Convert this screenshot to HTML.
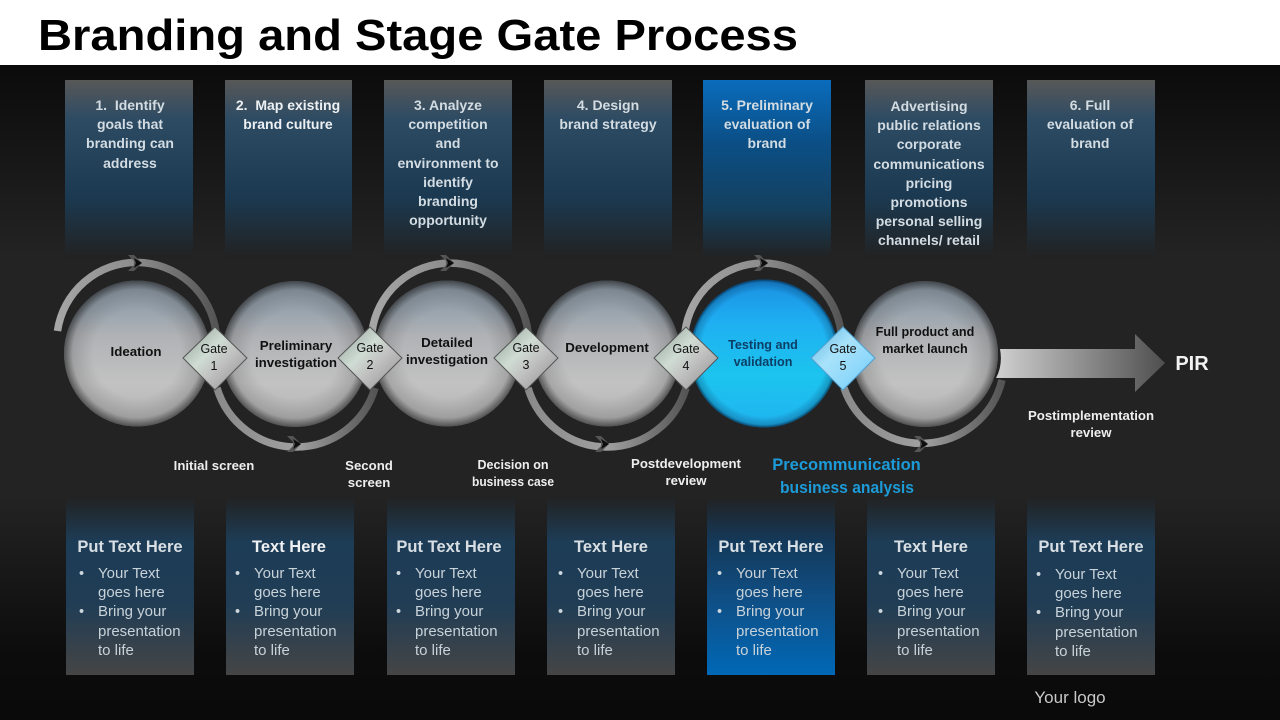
<!DOCTYPE html>
<html><head><meta charset="utf-8"><style>html,body{margin:0;padding:0;background:#fff}svg{display:block}
text{font-family:"Liberation Sans",sans-serif;text-anchor:middle}
.t{font-weight:700;font-size:14px;fill:#d3dce2}
.w{font-weight:700;font-size:13.200px;fill:#eee}
.c{font-weight:700;font-size:13.300px;fill:#111}
.g{font-size:12.500px;fill:#111}
.h{font-weight:700;font-size:16.500px;fill:#d8dfe4}
.b{font-size:15px;fill:#c8d2d9;text-anchor:start}
.d{font-size:14.500px;fill:#ccd6dc;text-anchor:start}
</style></head><body>
<svg width="1280" height="720" viewBox="0 0 1280 720" xmlns="http://www.w3.org/2000/svg">
<defs>
<linearGradient id="bg" x1="0" y1="65" x2="0" y2="720" gradientUnits="userSpaceOnUse"><stop offset="0" stop-color="#0b0b0b"/><stop offset=".29" stop-color="#232323"/><stop offset=".66" stop-color="#232323"/><stop offset=".9" stop-color="#0c0c0c"/><stop offset="1" stop-color="#0a0a0a"/></linearGradient>
<linearGradient id="top" x1="0" y1="0" x2="0" y2="1"><stop offset="0" stop-color="#585858"/><stop offset=".22" stop-color="#2d4b63"/><stop offset=".65" stop-color="#1b3a52"/><stop offset="1" stop-color="#222"/></linearGradient>
<linearGradient id="topB" x1="0" y1="0" x2="0" y2="1"><stop offset="0" stop-color="#0a6cbc"/><stop offset=".35" stop-color="#0b4f86"/><stop offset=".72" stop-color="#14405f"/><stop offset="1" stop-color="#222"/></linearGradient>
<linearGradient id="bot" x1="0" y1="0" x2="0" y2="1"><stop offset="0" stop-color="#222"/><stop offset=".25" stop-color="#1d3c56"/><stop offset=".6" stop-color="#203d55"/><stop offset="1" stop-color="#454545"/></linearGradient>
<linearGradient id="botB" x1="0" y1="0" x2="0" y2="1"><stop offset="0" stop-color="#222"/><stop offset=".25" stop-color="#14395a"/><stop offset=".6" stop-color="#0f5088"/><stop offset="1" stop-color="#0068b6"/></linearGradient>
<linearGradient id="sph" x1="0" y1="0" x2="0" y2="1"><stop offset="0" stop-color="#8d99a5"/><stop offset=".2" stop-color="#98a3ad"/><stop offset=".38" stop-color="#b0b2b5"/><stop offset=".7" stop-color="#c2c2c2"/><stop offset="1" stop-color="#b4b4b4"/></linearGradient>
<radialGradient id="edge" cx=".5" cy=".5" r=".5"><stop offset=".6" stop-color="#000" stop-opacity="0"/><stop offset=".88" stop-color="#000" stop-opacity=".14"/><stop offset="1" stop-color="#000" stop-opacity=".55"/></radialGradient>
<linearGradient id="sphB" x1="0" y1="0" x2="0" y2="1"><stop offset="0" stop-color="#1a8fe0"/><stop offset=".3" stop-color="#1fb0f2"/><stop offset=".65" stop-color="#1cc4ee"/><stop offset="1" stop-color="#1fb4f0"/></linearGradient>
<radialGradient id="edgeB" cx=".5" cy=".5" r=".5"><stop offset=".85" stop-color="#003" stop-opacity="0"/><stop offset=".96" stop-color="#024" stop-opacity=".25"/><stop offset="1" stop-color="#024" stop-opacity=".75"/></radialGradient>
<linearGradient id="dia" x1="0" y1="0" x2="1" y2="1"><stop offset="0" stop-color="#8d9a92"/><stop offset=".4" stop-color="#cfdcd3"/><stop offset=".6" stop-color="#c0c0c0"/><stop offset="1" stop-color="#8d8d8d"/></linearGradient>
<linearGradient id="diaB" x1="0" y1="0" x2="1" y2="1"><stop offset="0" stop-color="#5fb4e0"/><stop offset=".4" stop-color="#a8e2fa"/><stop offset=".7" stop-color="#8fd8fb"/><stop offset="1" stop-color="#58b8ea"/></linearGradient>
<linearGradient id="arrow" x1="998" y1="0" x2="1165" y2="0" gradientUnits="userSpaceOnUse"><stop offset="0" stop-color="#cfcfcf"/><stop offset="1" stop-color="#4f4f4f"/></linearGradient>
<linearGradient id="arcT" x1="0" y1="0" x2="1" y2="0"><stop offset="0" stop-color="#a6a6a6"/><stop offset=".5" stop-color="#8c8c8c"/><stop offset="1" stop-color="#555"/></linearGradient>
<linearGradient id="arcB" x1="0" y1="0" x2="1" y2="0"><stop offset="0" stop-color="#8a8a8a"/><stop offset=".5" stop-color="#a0a0a0"/><stop offset="1" stop-color="#555"/></linearGradient>
<g id="chev"><path d="M-9,-8 L-3,-8 L5,0 L-3,8 L-9,8 L-3,2 L-3,-2 Z" fill="#555"/><path d="M-3,-5 L5,0 L-3,5 L-1,0 Z" fill="#0c0c0c"/></g>
<g id="sphere"><circle r="73" fill="url(#sph)"/><circle r="73" fill="url(#edge)"/></g>
</defs>
<rect width="1280" height="65" fill="#fff"/>
<rect y="65" width="1280" height="655" fill="url(#bg)"/>
<text x="418" y="50" textLength="760" lengthAdjust="spacingAndGlyphs" style="font-weight:700;font-size:44px;fill:#000">Branding and Stage Gate Process</text>

<rect x="65" y="80" width="128" height="178" fill="url(#top)"/>
<rect x="225" y="80" width="127" height="178" fill="url(#top)"/>
<rect x="384" y="80" width="128" height="178" fill="url(#top)"/>
<rect x="544" y="80" width="128" height="178" fill="url(#top)"/>
<rect x="703" y="80" width="128" height="178" fill="url(#topB)"/>
<rect x="865" y="80" width="128" height="178" fill="url(#top)"/>
<rect x="1027" y="80" width="128" height="178" fill="url(#top)"/>

<text class="t" x="130" y="110" xml:space="preserve">1.  Identify</text><text class="t" x="130" y="129">goals that</text><text class="t" x="130" y="148">branding can</text><text class="t" x="130" y="168">address</text>
<text class="t" x="288" y="110" style="fill:#eef1f3" xml:space="preserve">2.  Map existing</text><text class="t" x="288" y="129" style="fill:#eef1f3">brand culture</text>
<text class="t" x="448" y="110">3. Analyze</text><text class="t" x="448" y="129">competition</text><text class="t" x="448" y="148">and</text><text class="t" x="448" y="168">environment to</text><text class="t" x="448" y="187">identify</text><text class="t" x="448" y="206">branding</text><text class="t" x="448" y="225">opportunity</text>
<text class="t" x="608" y="110">4. Design</text><text class="t" x="608" y="129">brand strategy</text>
<text class="t" x="767" y="110">5. Preliminary</text><text class="t" x="767" y="129">evaluation of</text><text class="t" x="767" y="148">brand</text>
<text class="t" x="929" y="111">Advertising</text><text class="t" x="929" y="130">public relations</text><text class="t" x="929" y="149">corporate</text><text class="t" x="929" y="169">communications</text><text class="t" x="929" y="188">pricing</text><text class="t" x="929" y="207">promotions</text><text class="t" x="929" y="226">personal selling</text><text class="t" x="929" y="245">channels/ retail</text>
<text class="t" x="1090" y="110">6. Full</text><text class="t" x="1090" y="129">evaluation of</text><text class="t" x="1090" y="148">brand</text>

<!-- arcs -->
<g fill="none" stroke-width="7.500">
<path d="M57.500,331 A80 80 0 0 1 216,332" stroke="url(#arcT)"/>
<path d="M372,332 A78.600 78.600 0 0 1 528,332" stroke="url(#arcT)"/>
<path d="M685,332 A78.600 78.600 0 0 1 841,332" stroke="url(#arcT)"/>
<path d="M217,388 A82.400 82.400 0 0 0 375,388" stroke="url(#arcB)"/>
<path d="M528,388 A82.400 82.400 0 0 0 686,388" stroke="url(#arcB)"/>
<path d="M844,388 A82.400 82.400 0 0 0 1002,380" stroke="url(#arcB)"/>
</g>
<use href="#chev" x="137" y="263"/><use href="#chev" x="449" y="263"/><use href="#chev" x="763" y="263"/>
<use href="#chev" x="296" y="444"/><use href="#chev" x="604" y="444"/><use href="#chev" x="923" y="444"/>

<!-- arrow -->
<path d="M1000,349 H1135 V334 L1165,363 L1135,392 V378 H996 Q1003,365 1000,349 Z" fill="url(#arrow)"/>

<!-- spheres -->
<use href="#sphere" x="137" y="353.500"/>
<use href="#sphere" x="295" y="354"/>
<use href="#sphere" x="447" y="353.500"/>
<use href="#sphere" x="607" y="353.500"/>
<circle cx="764" cy="353.500" r="74" fill="url(#sphB)"/><circle cx="764" cy="353.500" r="74" fill="url(#edgeB)"/>
<use href="#sphere" x="925" y="354"/>

<text class="c" x="136" y="356">Ideation</text>
<text class="c" x="296" y="350">Preliminary</text><text class="c" x="296" y="367">investigation</text>
<text class="c" x="447" y="347">Detailed</text><text class="c" x="447" y="364">investigation</text>
<text class="c" x="607" y="352">Development</text>
<text class="c" x="763" y="349" style="fill:#0c3f66;font-size:12.600px">Testing and</text><text class="c" x="763" y="366" style="fill:#0c3f66;font-size:12.600px">validation</text>
<text class="c" x="925" y="336" style="font-size:12.600px">Full product and</text><text class="c" x="925" y="353" style="font-size:12.600px">market launch</text>

<!-- gates -->
<g stroke="#555" stroke-width="1">
<path d="M215,327 L247,358 L215,390 L183,358 Z" fill="url(#dia)"/>
<path d="M370,327 L402,358 L370,390 L338,358 Z" fill="url(#dia)"/>
<path d="M526,327 L558,358 L526,390 L494,358 Z" fill="url(#dia)"/>
<path d="M686,327 L718,358 L686,390 L654,358 Z" fill="url(#dia)"/>
<path d="M843,327 L875,358 L843,390 L811,358 Z" fill="url(#diaB)" stroke="#4f9fd0"/>
</g>
<text class="g" x="214" y="353">Gate</text><text class="g" x="214" y="370">1</text>
<text class="g" x="370" y="352">Gate</text><text class="g" x="370" y="369">2</text>
<text class="g" x="526" y="352">Gate</text><text class="g" x="526" y="369">3</text>
<text class="g" x="686" y="353">Gate</text><text class="g" x="686" y="370">4</text>
<text class="g" x="843" y="353">Gate</text><text class="g" x="843" y="370">5</text>

<text x="1192" y="370" style="font-weight:700;font-size:20px;fill:#f2f2f2">PIR</text>
<text class="w" x="1091" y="420">Postimplementation</text><text class="w" x="1091" y="437">review</text>
<text class="w" x="214" y="470">Initial screen</text>
<text class="w" x="369" y="470">Second</text><text class="w" x="369" y="487">screen</text>
<text class="w" x="513" y="469" textLength="71" lengthAdjust="spacingAndGlyphs">Decision on</text><text class="w" x="513" y="486" textLength="82" lengthAdjust="spacingAndGlyphs">business case</text>
<text class="w" x="686" y="468">Postdevelopment</text><text class="w" x="686" y="485">review</text>
<text x="846.500" y="470" style="font-weight:700;font-size:16.500px;fill:#1c9bd8">Precommunication</text>
<text x="847" y="493" textLength="134" lengthAdjust="spacingAndGlyphs" style="font-weight:700;font-size:16.500px;fill:#1c9bd8">business analysis</text>

<!-- bottom boxes -->
<rect x="66" y="497" width="128" height="178" fill="url(#bot)"/>
<rect x="226" y="497" width="128" height="178" fill="url(#bot)"/>
<rect x="387" y="497" width="128" height="178" fill="url(#bot)"/>
<rect x="547" y="497" width="128" height="178" fill="url(#bot)"/>
<rect x="707" y="497" width="128" height="178" fill="url(#botB)"/>
<rect x="867" y="497" width="128" height="178" fill="url(#bot)"/>
<rect x="1027" y="497" width="128" height="178" fill="url(#bot)"/>

<text class="h" x="130" y="552">Put Text Here</text>
<text class="d" x="79" y="578">•</text><text class="b" x="98" y="578">Your Text</text><text class="b" x="98" y="597">goes here</text><text class="d" x="79" y="616">•</text><text class="b" x="98" y="616">Bring your</text><text class="b" x="98" y="636">presentation</text><text class="b" x="98" y="655">to life</text>

<text class="h" x="289" y="552" style="fill:#eef1f3">Text Here</text>
<text class="d" x="235" y="578">•</text><text class="b" x="254" y="578">Your Text</text><text class="b" x="254" y="597">goes here</text><text class="d" x="235" y="616">•</text><text class="b" x="254" y="616">Bring your</text><text class="b" x="254" y="636">presentation</text><text class="b" x="254" y="655">to life</text>

<text class="h" x="449" y="552">Put Text Here</text>
<text class="d" x="396" y="578">•</text><text class="b" x="415" y="578">Your Text</text><text class="b" x="415" y="597">goes here</text><text class="d" x="396" y="616">•</text><text class="b" x="415" y="616">Bring your</text><text class="b" x="415" y="636">presentation</text><text class="b" x="415" y="655">to life</text>

<text class="h" x="611" y="552">Text Here</text>
<text class="d" x="558" y="578">•</text><text class="b" x="577" y="578">Your Text</text><text class="b" x="577" y="597">goes here</text><text class="d" x="558" y="616">•</text><text class="b" x="577" y="616">Bring your</text><text class="b" x="577" y="636">presentation</text><text class="b" x="577" y="655">to life</text>

<text class="h" x="771" y="552">Put Text Here</text>
<text class="d" x="717" y="578">•</text><text class="b" x="736" y="578">Your Text</text><text class="b" x="736" y="597">goes here</text><text class="d" x="717" y="616">•</text><text class="b" x="736" y="616">Bring your</text><text class="b" x="736" y="636">presentation</text><text class="b" x="736" y="655">to life</text>

<text class="h" x="931" y="552">Text Here</text>
<text class="d" x="878" y="578">•</text><text class="b" x="897" y="578">Your Text</text><text class="b" x="897" y="597">goes here</text><text class="d" x="878" y="616">•</text><text class="b" x="897" y="616">Bring your</text><text class="b" x="897" y="636">presentation</text><text class="b" x="897" y="655">to life</text>

<text class="h" x="1091" y="552">Put Text Here</text>
<text class="d" x="1036" y="579">•</text><text class="b" x="1055" y="579">Your Text</text><text class="b" x="1055" y="598">goes here</text><text class="d" x="1036" y="617">•</text><text class="b" x="1055" y="617">Bring your</text><text class="b" x="1055" y="637">presentation</text><text class="b" x="1055" y="656">to life</text>

<text x="1070" y="703" style="font-size:17px;fill:#c8c8c8">Your logo</text>
</svg>
</body></html>
